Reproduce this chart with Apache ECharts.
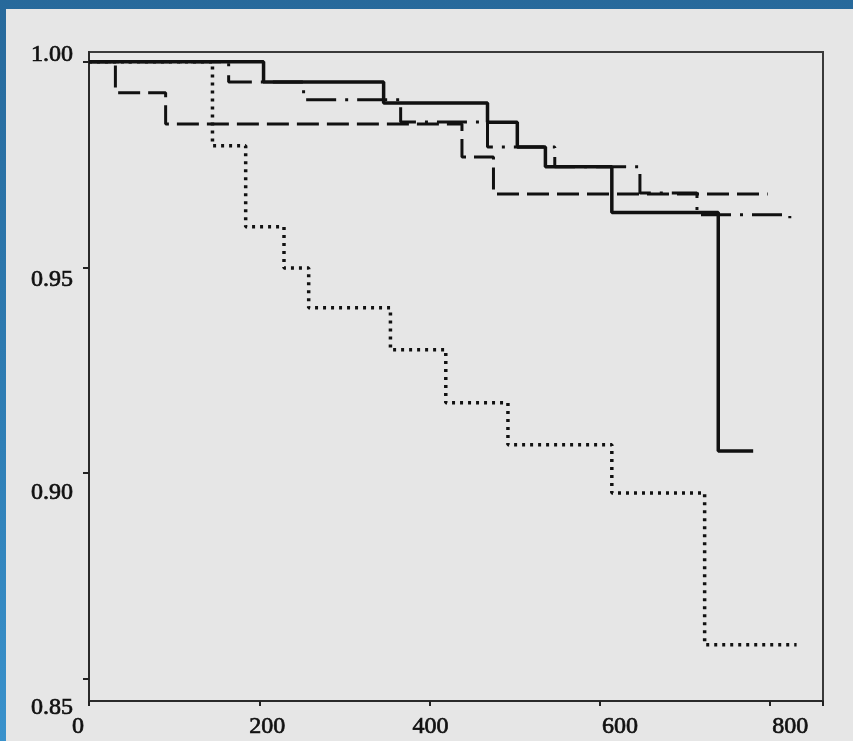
<!DOCTYPE html>
<html>
<head>
<meta charset="utf-8">
<script src="https://cdn.jsdelivr.net/npm/echarts@6/dist/echarts.min.js"></script>
<style>
  html, body { margin: 0; padding: 0; width: 853px; height: 741px; overflow: hidden;
    background: linear-gradient(180deg, #27699b 0%, #2f7fb6 60%, #3a92cc 100%); }
  #chart { position: absolute; left: 6px; top: 9px; width: 847px; height: 732px; }
</style>
</head>
<body>
<div id="chart"></div>
<script>
// ---- data ----
const xTicks = [0, 200, 400, 600, 800];
const yTicks = [0.85, 0.90, 0.95, 1.00];
const yTickLabels = ['0.85', '0.90', '0.95', '1.00'];

// solid line
const solidTimes  = [0, 205, 346, 468, 503, 536, 614, 739, 780];
const solidValues = [1.0, 0.9951, 0.9900, 0.9853, 0.9793, 0.9745, 0.9634, 0.9054, 0.9054];

// dash-dot line
const dashDotTimes  = [0, 164, 252, 366, 468, 547, 647, 714, 823];
const dashDotValues = [1.0, 0.9951, 0.9908, 0.9854, 0.9793, 0.9745, 0.9681, 0.9628, 0.9620];

// dashed line
const dashedTimes  = [0, 31, 90, 438, 475, 797];
const dashedValues = [1.0, 0.9925, 0.9849, 0.9769, 0.9679, 0.9679];

// dotted line
const dottedTimes  = [0, 145, 184, 229, 258, 354, 419, 492, 614, 723, 831];
const dottedValues = [1.0, 0.9796, 0.9599, 0.9499, 0.9402, 0.9300, 0.9171, 0.9069, 0.8952, 0.8583, 0.8583];

function pairs(xs, ys) { return xs.map((x, i) => [x, ys[i]]); }

const chart = echarts.init(document.getElementById('chart'));
const font = 'Liberation Serif, Times New Roman, serif';

// per-label offsets to mimic the scanned label placement
const xRich = {
  x0: { padding: [0, 22, 0, 0] },
  x200: { padding: [0, 0, 0, 16] },
  x400: { padding: [0, 0, 0, 2] },
  x600: { padding: [0, 0, 0, 40] },
  x800: { padding: [0, 0, 0, 40] }
};
const yRich = {
  y0: { padding: [58, 0, 0, 0] },
  y1: { padding: [40, 0, 0, 0] },
  y2: { padding: [24, 0, 0, 0] },
  y3: { padding: [0, 0, 14, 0] }
};

const lineBase = { type: 'line', step: 'end', showSymbol: false, symbol: 'none', silent: true, animation: false };

chart.setOption({
  backgroundColor: '#e6e6e6',
  animation: false,
  grid: { left: 83, top: 43, right: 30, bottom: 40, show: true, borderColor: '#3a3a3a', borderWidth: 2, backgroundColor: 'transparent' },
  xAxis: {
    type: 'value', min: 0, max: 862, interval: 200,
    axisLine: { show: true, lineStyle: { color: '#2a2a2a', width: 2 } },
    axisTick: { show: true, length: 5, lineStyle: { color: '#222', width: 2 } },
    splitLine: { show: false },
    axisLabel: {
      color: '#111', fontFamily: font, fontSize: 24, margin: 14,
      textBorderColor: '#111', textBorderWidth: 0.7,
      formatter: v => (xTicks.indexOf(v) >= 0 ? '{x' + v + '|' + v + '}' : ''),
      rich: xRich
    }
  },
  yAxis: {
    type: 'value', min: 0.8446, max: 1.0024,
    axisLine: { show: true, lineStyle: { color: '#2a2a2a', width: 2 } },
    axisTick: { show: true, length: 6, lineStyle: { color: '#222', width: 2 }, customValues: yTicks },
    splitLine: { show: false },
    axisLabel: {
      color: '#111', fontFamily: font, fontSize: 24, margin: 16,
      textBorderColor: '#111', textBorderWidth: 0.7,
      customValues: yTicks,
      formatter: v => {
        let i = -1;
        yTicks.forEach((t, k) => { if (Math.abs(t - v) < 1e-6) i = k; });
        return i >= 0 ? '{y' + i + '|' + yTickLabels[i] + '}' : '';
      },
      rich: yRich
    }
  },
  series: [
    Object.assign({}, lineBase, { name: 'dotted', data: pairs(dottedTimes, dottedValues),
      lineStyle: { color: '#111', width: 3.5, type: [3, 5] } }),
    Object.assign({}, lineBase, { name: 'dashed', data: pairs(dashedTimes, dashedValues),
      lineStyle: { color: '#111', width: 3, type: [22, 8] } }),
    Object.assign({}, lineBase, { name: 'dashdot', data: pairs(dashDotTimes, dashDotValues),
      lineStyle: { color: '#111', width: 3, type: [30, 9, 3, 9] } }),
    Object.assign({}, lineBase, { name: 'solid', data: pairs(solidTimes, solidValues),
      lineStyle: { color: '#111', width: 3.5, type: 'solid' } })
  ]
});
</script>
</body>
</html>
